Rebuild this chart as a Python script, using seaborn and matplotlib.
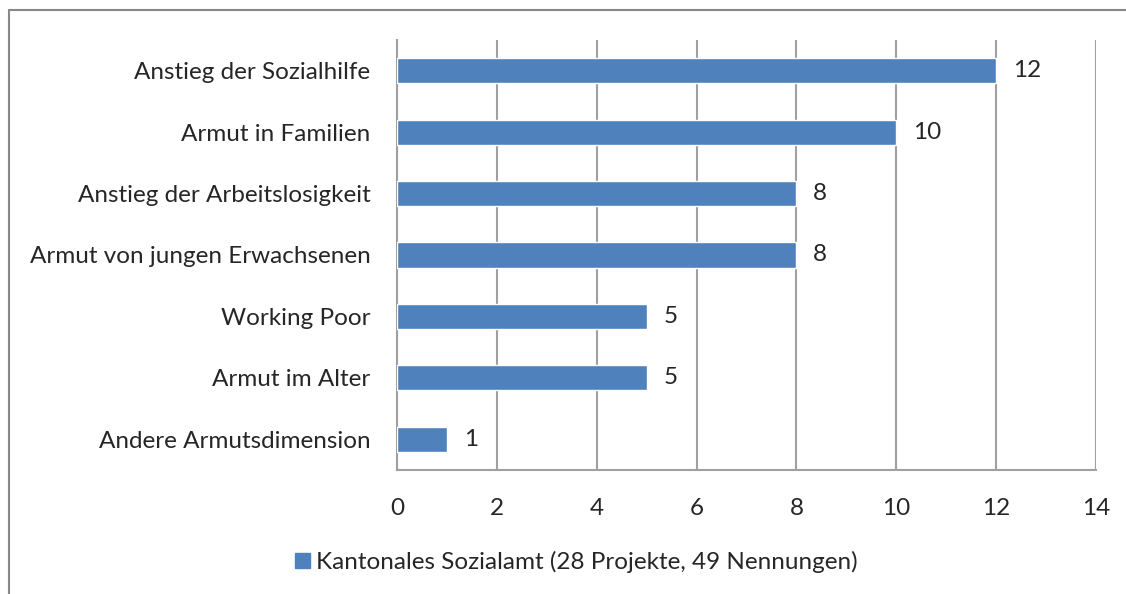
import matplotlib
matplotlib.use("Agg")
import matplotlib.pyplot as plt
import matplotlib.patches as mpatches
from matplotlib.lines import Line2D
import seaborn as sns
import pandas as pd

kategorien = [
    "Anstieg der Sozialhilfe",
    "Armut in Familien",
    "Anstieg der Arbeitslosigkeit",
    "Armut von jungen Erwachsenen",
    "Working Poor",
    "Armut im Alter",
    "Andere Armutsdimension",
]
nennungen = [12, 10, 8, 8, 5, 5, 1]
legende_text = "Kantonales Sozialamt (28 Projekte, 49 Nennungen)"
x_ticks = [0, 2, 4, 6, 8, 10, 12, 14]

sns.set_style("white")
plt.rcParams["font.family"] = ["Lato", "DejaVu Sans"]
blau = "#4F81BD"
grau = "#A0A0A0"
fs = 17.5

df = pd.DataFrame({"kategorie": kategorien, "wert": nennungen})

fig = plt.figure(figsize=(11.26, 5.94), dpi=100)
ax = fig.add_axes([397 / 1126, 1 - 470 / 594, 699 / 1126, 430 / 594])

sns.barplot(data=df, x="wert", y="kategorie", orient="h", color=blau,
            width=0.41, saturation=1, ax=ax, zorder=3)

ax.set_xlim(0, 14)
ax.set_ylim(6.5, -0.5)
ax.set_xticks(x_ticks)
ax.set_xlabel("")
ax.set_ylabel("")
ax.tick_params(axis="x", labelsize=fs, length=8, width=1.5, color=grau,
               pad=12, direction="out")
ax.tick_params(axis="y", which="major", labelsize=fs, length=0, pad=19)
ax.set_yticks([i + 0.5 for i in range(-1, 7)], minor=True)
ax.tick_params(axis="y", which="minor", length=8, width=1.5, color=grau,
               direction="out")
ax.grid(axis="x", color=grau, linewidth=1.5, zorder=0)
for s in ["top", "right"]:
    ax.spines[s].set_visible(False)
for s in ["left", "bottom"]:
    ax.spines[s].set_color(grau)
    ax.spines[s].set_linewidth(1.5)

ax.bar_label(ax.containers[0], labels=[str(v) for v in nennungen],
             padding=12, fontsize=fs)

handle = mpatches.Patch(color=blau, label=legende_text)
fig.legend(handles=[handle], loc="center", bbox_to_anchor=(0.512, 1 - 562 / 594),
           frameon=False, fontsize=fs, handlelength=0.6, handleheight=0.6,
           handletextpad=0.25)

# Rahmen um das Diagramm (rechts und unten abgeschnitten)
fig.add_artist(Line2D([9 / 1126, 9 / 1126], [0, 1 - 10 / 594],
                      color="#888888", linewidth=1.5, transform=fig.transFigure))
fig.add_artist(Line2D([9 / 1126, 1], [1 - 10 / 594, 1 - 10 / 594],
                      color="#888888", linewidth=1.5, transform=fig.transFigure))

fig.savefig("out.png", dpi=100)
